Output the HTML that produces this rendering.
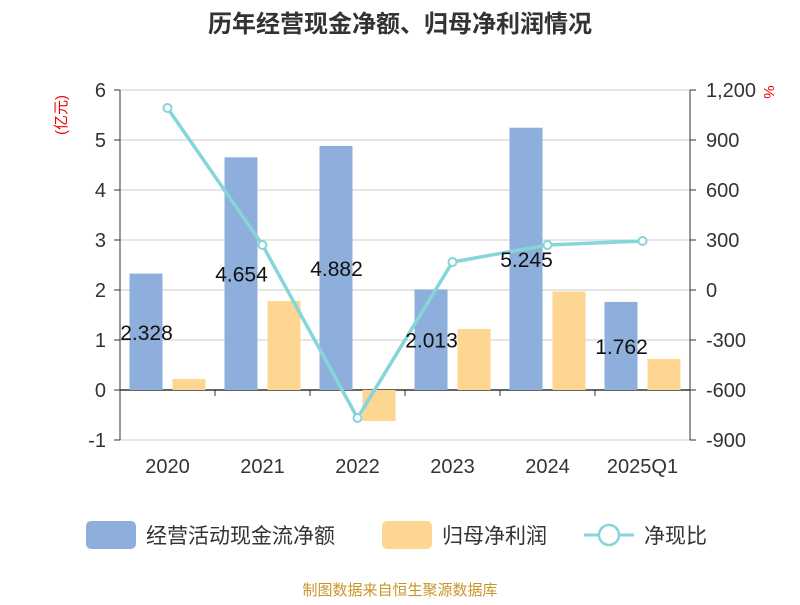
<!DOCTYPE html>
<html><head><meta charset="utf-8"><style>
body{margin:0;background:#fff;font-family:"Liberation Sans","Noto Sans CJK SC",sans-serif;}
</style></head><body>
<svg width="800" height="600" xmlns="http://www.w3.org/2000/svg" font-family="Liberation Sans, Noto Sans CJK SC, sans-serif">
<text x="400" y="32" text-anchor="middle" font-size="24" font-weight="bold" fill="#333">历年经营现金净额、归母净利润情况</text>
<text transform="translate(66,115) rotate(-90)" text-anchor="middle" font-size="15" fill="#e00">(亿元)</text>
<text transform="translate(764,92) rotate(90)" text-anchor="middle" font-size="15" fill="#e00">%</text>
<g id="grid"></g><g id="bars"></g><g id="axes"></g><g id="line"></g><g id="labels"></g>
<g>
<rect x="86" y="521" width="50" height="28" rx="5" fill="#8eaedb"/>
<text x="146" y="543" font-size="21" fill="#333">经营活动现金流净额</text>
<rect x="382" y="521" width="50" height="28" rx="5" fill="#fdd692"/>
<text x="442" y="543" font-size="21" fill="#333">归母净利润</text>
<line x1="584" y1="535" x2="634" y2="535" stroke="#86d5d8" stroke-width="3"/>
<circle cx="609" cy="535" r="10" fill="#fff" stroke="#86d5d8" stroke-width="2.5"/>
<text x="644" y="543" font-size="21" fill="#333">净现比</text>
</g>
<text x="400" y="595" text-anchor="middle" font-size="15" fill="#c8952a">制图数据来自恒生聚源数据库</text>
</svg>
<script>
const categories=["2020","2021","2022","2023","2024","2025Q1"];
const cashFlow=[2.328,4.654,4.882,2.013,5.245,1.762];
const netProfit=[0.22,1.78,-0.62,1.22,1.97,0.62];
const ratio=[1092,270,-768,168,270,294];
const leftTicks=[-1,0,1,2,3,4,5,6];
const rightTicks=["-900","-600","-300","0","300","600","900","1,200"];
const NS="http://www.w3.org/2000/svg";
const X0=120,X1=690,Ytop=90,Ybot=440;
const yL=v=>390-v*50;
const yR=v=>290-v/300*50;
const bw=(X1-X0)/categories.length;
const xc=i=>X0+bw*(i+0.5);
function mk(tag,attrs,parent,txt){const e=document.createElementNS(NS,tag);for(const k in attrs)e.setAttribute(k,attrs[k]);if(txt!==undefined)e.textContent=txt;document.getElementById(parent).appendChild(e);return e;}
leftTicks.forEach((t,i)=>{
 const y=yL(t);
 const g=mk('line',{x1:X0,x2:X1,y1:y,y2:y,stroke:t===0?'#333':'#ccc','stroke-width':t===0?1.5:1},'grid');
 
 
 const l=mk('text',{x:X0-14,y:y+7,'text-anchor':'end','font-size':20,fill:'#333'},'axes',String(t));
 
 
 const r=mk('text',{x:X1+16,y:y+7,'font-size':20,fill:'#333'},'axes',rightTicks[i]);
 
 
 mk('line',{x1:X0-6,x2:X0,y1:y,y2:y,stroke:'#333'},'axes');
 mk('line',{x1:X1,x2:X1+6,y1:y,y2:y,stroke:'#333'},'axes');
});
mk('line',{x1:X0,x2:X0,y1:Ytop,y2:Ybot,stroke:'#333'},'axes');
mk('line',{x1:X1,x2:X1,y1:Ytop,y2:Ybot,stroke:'#333'},'axes');
categories.forEach((c,i)=>{
 const t=mk('text',{x:xc(i),y:473,'text-anchor':'middle','font-size':20,fill:'#333'},'axes',c);
 
 
 mk('line',{x1:X0+bw*(i+1),x2:X0+bw*(i+1),y1:390,y2:396,stroke:'#333'},'axes');
 const v=cashFlow[i],y=yL(v);
 const b=mk('rect',{x:xc(i)-38,y:Math.min(y,390),width:33,height:Math.abs(390-y),fill:'#8eaedb'},'bars');
 
 
 const p=netProfit[i],yp=yL(p);
 const b2=mk('rect',{x:xc(i)+5,y:Math.min(yp,390),width:33,height:Math.abs(390-yp),fill:'#fdd692'},'bars');
 
 
 const lb=mk('text',{x:xc(i)-21,y:(y+390)/2+8,'text-anchor':'middle','font-size':21,fill:'#111'},'labels',v.toFixed(3));
 
 
});
const pts=ratio.map((v,i)=>xc(i)+','+yR(v)).join(' ');
const pl=mk('polyline',{points:pts,fill:'none',stroke:'#86d5d8','stroke-width':3.5},'line');


ratio.forEach((v,i)=>{
 const c=mk('circle',{cx:xc(i),cy:yR(v),r:4,fill:'#fff',stroke:'#86d5d8','stroke-width':2},'line');
 
 
});
</script>
</body></html>
